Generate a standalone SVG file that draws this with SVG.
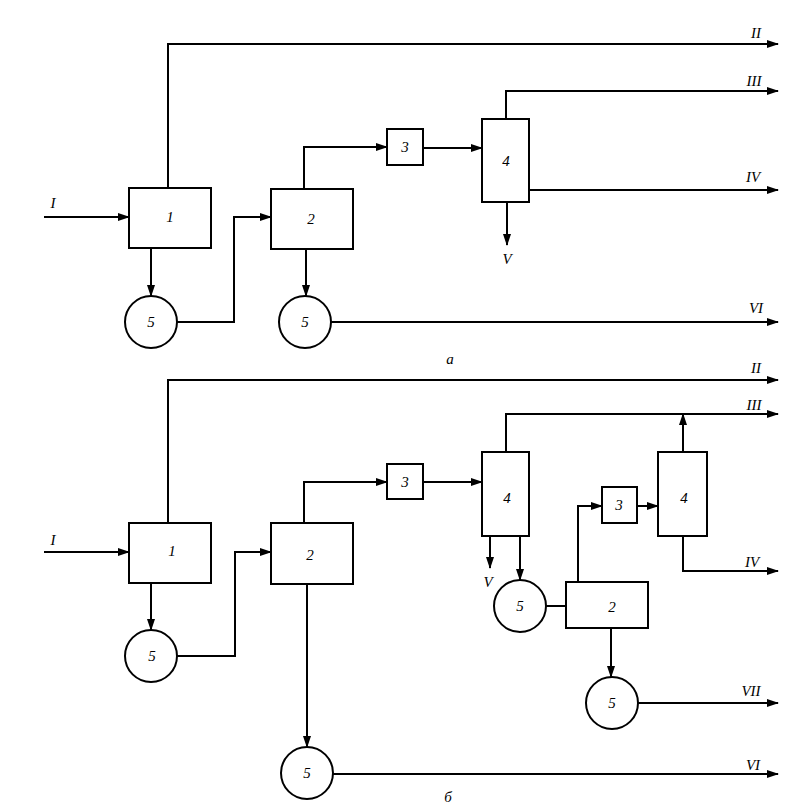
<svg xmlns="http://www.w3.org/2000/svg" width="793" height="810" viewBox="0 0 793 810">
<defs>
<marker id="arr" markerUnits="userSpaceOnUse" markerWidth="12" markerHeight="8" refX="11" refY="4" orient="auto">
<path d="M0,0 L12,4 L0,8 Z" fill="#000"/>
</marker>
<style>
.n rect, .n circle { fill: #fff; stroke: #000; stroke-width: 2; }
.c path { fill: none; stroke: #000; stroke-width: 2; }
.c path.a { marker-end: url(#arr); }
text { font-family: "Liberation Serif", "DejaVu Serif", serif; font-style: italic; font-size: 15px; fill: #000; text-anchor: middle; dominant-baseline: central; }
</style>
</defs>
<rect width="793" height="810" fill="#fff"/>

<!-- Diagram a -->
<g class="c" id="connectors-a">
<path class="a" d="M168,188 V44 H778"/>
<path class="a" d="M44,217 H129"/>
<path class="a" d="M151,248 V296"/>
<path class="a" d="M177,322 H234 V217 H271"/>
<path class="a" d="M304,189 V147 H387"/>
<path class="a" d="M306,249 V296"/>
<path class="a" d="M331,322 H778"/>
<path class="a" d="M423,148 H482"/>
<path class="a" d="M506,119 V91 H778"/>
<path class="a" d="M529,190 H778"/>
<path class="a" d="M507,202 V245"/>
</g>
<g class="n" id="a-box1"><rect x="129" y="188" width="82" height="60"/><text x="170" y="217">1</text></g>
<g class="n" id="a-box2"><rect x="271" y="189" width="82" height="60"/><text x="311" y="219">2</text></g>
<g class="n" id="a-box3"><rect x="387" y="129" width="36" height="36"/><text x="405" y="147">3</text></g>
<g class="n" id="a-box4"><rect x="482" y="119" width="47" height="83"/><text x="506" y="161">4</text></g>
<g class="n" id="a-circle1"><circle cx="151" cy="322" r="26"/><text x="151" y="322">5</text></g>
<g class="n" id="a-circle2"><circle cx="305" cy="322" r="26"/><text x="305" y="322">5</text></g>
<g id="a-labels">
<text x="53" y="203">I</text>
<text x="756" y="33">II</text>
<text x="754" y="81">III</text>
<text x="753" y="177">IV</text>
<text x="507" y="259">V</text>
<text x="756" y="308">VI</text>
<text x="450" y="359">а</text>
</g>

<!-- Diagram b -->
<g class="c" id="connectors-b">
<path class="a" d="M168,523 V380 H778"/>
<path class="a" d="M44,552 H129"/>
<path class="a" d="M151,583 V630"/>
<path class="a" d="M177,656 H235 V552 H271"/>
<path class="a" d="M304,523 V482 H387"/>
<path class="a" d="M307,584 V747"/>
<path class="a" d="M333,774 H778"/>
<path class="a" d="M423,482 H482"/>
<path class="a" d="M506,452 V414 H778"/>
<path class="a" d="M490,536 V568"/>
<path class="a" d="M520,536 V580"/>
<path d="M546,606 H566"/>
<path class="a" d="M578,582 V506 H602"/>
<path class="a" d="M637,506 H658"/>
<path class="a" d="M683,452 V414"/>
<path class="a" d="M683,536 V571 H778"/>
<path class="a" d="M611,628 V677"/>
<path class="a" d="M638,703 H778"/>
</g>
<g class="n" id="b-box1"><rect x="129" y="523" width="82" height="60"/><text x="172" y="551">1</text></g>
<g class="n" id="b-box2"><rect x="271" y="523" width="82" height="61"/><text x="310" y="555">2</text></g>
<g class="n" id="b-box3"><rect x="387" y="464" width="36" height="35"/><text x="405" y="482">3</text></g>
<g class="n" id="b-box4"><rect x="482" y="452" width="47" height="84"/><text x="507" y="498">4</text></g>
<g class="n" id="b-box2b"><rect x="566" y="582" width="82" height="46"/><text x="612" y="607">2</text></g>
<g class="n" id="b-box3b"><rect x="602" y="487" width="35" height="36"/><text x="619" y="505">3</text></g>
<g class="n" id="b-box4b"><rect x="658" y="452" width="49" height="84"/><text x="684" y="498">4</text></g>
<g class="n" id="b-circle1"><circle cx="151" cy="656" r="26"/><text x="152" y="656">5</text></g>
<g class="n" id="b-circle2"><circle cx="307" cy="773" r="26"/><text x="307" y="773">5</text></g>
<g class="n" id="b-circle3"><circle cx="520" cy="606" r="26"/><text x="520" y="606">5</text></g>
<g class="n" id="b-circle4"><circle cx="612" cy="703" r="26"/><text x="612" y="703">5</text></g>
<g id="b-labels">
<text x="53" y="540">I</text>
<text x="756" y="368">II</text>
<text x="754" y="405">III</text>
<text x="752" y="562">IV</text>
<text x="488" y="582">V</text>
<text x="753" y="765">VI</text>
<text x="751" y="691">VII</text>
<text x="448" y="797">б</text>
</g>
</svg>
